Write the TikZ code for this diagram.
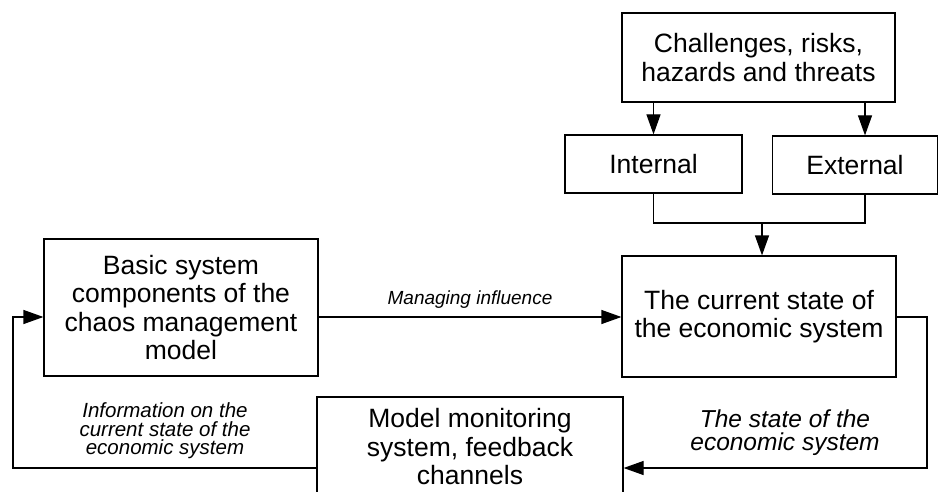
\documentclass[tikz,border=0pt]{standalone}
\usepackage{fontspec}
\setmainfont{Liberation Sans}
\usetikzlibrary{arrows.meta}
\begin{document}
\begin{tikzpicture}[x=1pt,y=-1pt,
  box/.style={draw,line width=1.2pt,inner sep=0pt,align=center,font=\fontsize{26.5}{28.5}\selectfont},
  conn/.style={line width=1.2pt},
  arr/.style={conn,-{Triangle[length=20pt,width=14pt]}},
  lab/.style={inner sep=0pt,align=center,font=\itshape}]
\useasboundingbox (0,0) rectangle (939,492);
\clip (0,0) rectangle (939,492);
\node[box,minimum width=273pt,minimum height=89pt] (chal) at (758.5,57.5) {Challenges, risks,\\hazards and threats};
\node[box,minimum width=177pt,minimum height=58pt] (int) at (653.5,164) {Internal};
\node[box,minimum width=165pt,minimum height=58pt] (ext) at (855,165) {External};
\node[box,minimum width=274pt,minimum height=121pt] (cur) at (759,316.5) {The current state of\\the economic system};
\node[box,minimum width=274pt,minimum height=137pt] (basic) at (181,307.5) {Basic system\\components of the\\chaos management\\model};
\node[box,minimum width=306pt,minimum height=100pt] (model) at (470,447) {Model monitoring\\system, feedback\\channels};
\coordinate (extin) at (865,136);
\coordinate (merge) at (762,223);
\coordinate (rline) at (927,317);
\coordinate (lline) at (13,317);
\coordinate (fb) at (0,468);
% top connectors
\draw[arr] (int.north |- chal.south) -- (int.north);
\draw[arr] (extin |- chal.south) -- (extin |- ext.north);
\draw[conn] (int.south) -- (int.south |- merge) -- (extin |- merge) -- (extin |- ext.south);
\draw[arr] (merge) -- (merge |- cur.north);
% managing influence
\draw[arr] (basic.east |- rline) -- node[lab,above=8pt,font=\itshape\fontsize{19}{22}\selectfont] (mi) {Managing influence} (cur.west |- rline);
% right loop
\draw[arr] (cur.east |- rline) -- (rline) -- (rline |- fb) -- (model.east |- fb);
% left loop
\draw[arr] (model.west |- fb) -- (lline |- fb) -- (lline) -- (basic.west |- lline);
\node[lab,font=\itshape\fontsize{20.5}{18.5}\selectfont] (info) at (165,431) {Information on the\\current state of the\\economic system};
\node[lab,font=\itshape\fontsize{24.5}{23}\selectfont] (state) at (785,433) {The state of the\\economic system};
\end{tikzpicture}
\end{document}
